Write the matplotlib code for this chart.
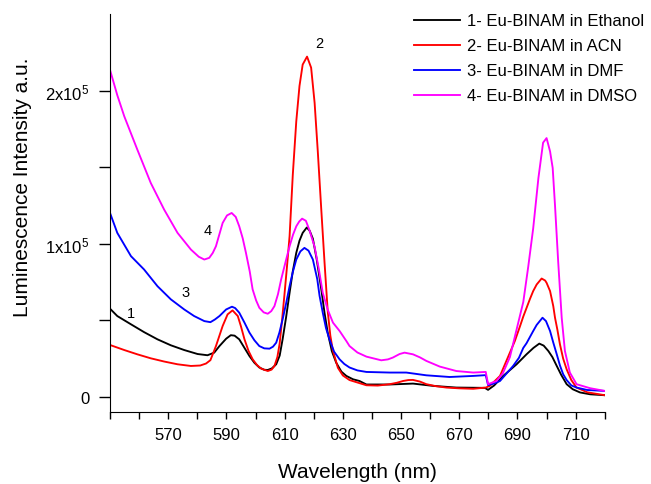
import matplotlib
matplotlib.use("Agg")
import matplotlib.pyplot as plt
from matplotlib.ticker import FixedLocator

plt.rcParams['font.family'] = ['Liberation Sans', 'DejaVu Sans']
plt.rcParams['mathtext.default'] = 'regular'

# ---- data ----
wl_eth = [550, 552.5, 557.2, 561.7, 566.3, 570.9, 575.5, 580.1, 583.5, 585.8, 587.6, 589.9, 591.5,
          592.8, 594.4, 596.2, 597.9, 599.6, 601.3, 603.0, 604.2, 605.6, 607.1, 608.3, 609.3,
          610.5, 611.7, 612.8, 614.0, 615.1, 616.2, 617.6, 618.6, 619.7, 621.0, 622.6, 623.7,
          624.8, 626.2, 627.7, 629.5, 631.2, 633.5, 635.7, 638.1, 646.1, 654.1, 661.0, 669.0,
          678.8, 679.9, 682.0, 685.1, 689.7, 693.1, 695.5, 697.5, 699.0, 700.6, 702.0, 703.5,
          705.0, 706.9, 709.0, 711.5, 715.0, 720]
int_eth = [57600, 52800, 47400, 42300, 37600, 33700, 30600, 28000, 27200, 28900, 33200, 38000, 40300,
           40000, 37600, 32000, 26700, 22300, 19200, 17700, 17600, 18600, 21300, 27000, 37600,
           52000, 68000, 82000, 94100, 102000, 107100, 110600, 108500, 103300, 90000, 70200, 55000,
           42000, 30000, 22400, 16500, 13700, 11500, 10400, 8100, 8100, 8700, 7200, 6100,
           5900, 4600, 7500, 13700, 21300, 27800, 32000, 34800, 33500, 30000, 26000, 20200,
           14500, 8300, 5000, 2900, 1700, 1100]

wl_acn = [550, 554.9, 559.4, 564.0, 568.6, 573.2, 577.8, 581.0, 583.0, 584.5, 586.4, 588.7, 590.4,
          592.1, 593.9, 595.0, 596.2, 597.6, 599.0, 600.5, 601.9, 604.2, 605.5, 606.5, 607.5,
          608.3, 609.1, 609.9, 610.8, 611.7, 612.8, 614.0, 615.1, 616.2, 617.7, 619.1, 620.3,
          621.4, 622.6, 623.7, 624.8, 625.7, 626.6, 628.3, 630.0, 632.3, 635.7, 638.1, 642.0,
          646.1, 648.5, 650.7, 652.5, 654.1, 656.5, 658.7, 662.0, 665.6, 670.0, 674.8, 679.1,
          680.5, 682.0, 684.0, 687.4, 689.1, 690.9, 692.0, 694.3, 695.4, 696.6, 698.3, 699.5,
          700.0, 701.2, 702.3, 702.9, 703.7, 704.6, 705.7, 706.9, 708.5, 710.3, 714.0, 720]
int_acn = [33900, 30600, 27800, 25200, 23100, 21300, 20200, 20500, 21800, 24000, 33200, 46300, 53900,
           56500, 52800, 46000, 37600, 30000, 24600, 20800, 18500, 16900, 17800, 20200, 26000,
           35000, 50000, 66000, 85000, 105000, 145000, 180000, 203000, 217000, 222200, 215000, 192000,
           160000, 122000, 88000, 56000, 40000, 30000, 19000, 14000, 11000, 9000, 7600, 7400,
           8300, 9200, 10400, 11000, 11100, 10000, 8300, 7000, 6100, 5600, 5300, 6100,
           7200, 10000, 13700, 28900, 36500, 46300, 52500, 64000, 69100, 73400, 77300, 76000,
           74500, 69100, 59300, 51700, 44000, 34300, 25000, 18000, 11000, 6100, 3000, 1100]

wl_dmf = [550, 552.5, 557.2, 561.7, 566.3, 570.9, 575.5, 578.9, 582.4, 584.5, 586.0, 587.6, 589.9,
          591.9, 593.0, 594.4, 596.2, 597.9, 599.6, 601.3, 603.0, 604.8, 606.0, 607.1, 608.2,
          609.3, 610.5, 611.7, 612.8, 614.0, 615.4, 616.8, 618.2, 619.7, 621.2, 622.0, 623.1,
          624.2, 625.4, 627.0, 628.9, 630.5, 632.3, 635.0, 638.1, 646.1, 651.8, 658.7, 666.7,
          674.8, 679.1, 679.9, 682.0, 684.0, 688.5, 690.5, 692.0, 693.1, 695.4, 696.6, 698.6,
          699.8, 701.2, 702.3, 703.5, 704.6, 705.7, 706.9, 708.5, 710.3, 714.0, 720]
int_dmf = [120100, 107100, 91900, 83200, 72300, 63700, 57100, 52800, 49500, 48800, 50500, 52800, 57100,
           58900, 58000, 55000, 48500, 42000, 37000, 33200, 31700, 31500, 32800, 35400, 42000,
           50600, 61000, 72300, 81500, 89700, 95000, 97300, 95500, 89700, 77000, 66000, 55000,
           45000, 37600, 29500, 24500, 21500, 19200, 17300, 16300, 15900, 15900, 14100, 13000,
           13700, 14200, 7700, 8800, 10400, 20200, 25500, 32000, 35000, 43000, 47000, 51700,
           49500, 43000, 35500, 27800, 20500, 14800, 11000, 7500, 6100, 4500, 3900]

wl_dmso = [550, 552.5, 554.9, 559.4, 564.0, 568.6, 573.2, 577.8, 580.5, 582.4, 584.1, 585.3, 586.4,
           588.7, 590.2, 591.8, 593.2, 594.4, 595.6, 596.7, 598.0, 599.0, 600.2, 601.3, 602.8,
           604.2, 605.4, 606.5, 607.7, 608.8, 610.3, 611.7, 612.9, 614.0, 615.0, 616.0, 617.3,
           618.5, 620.3, 621.7, 623.1, 624.8, 626.6, 628.9, 631.2, 632.3, 635.0, 638.1, 643.2,
           645.5, 647.2, 649.5, 651.2, 654.1, 656.5, 658.7, 663.3, 669.0, 674.8, 679.1, 679.9,
           682.8, 685.0, 687.4, 689.7, 692.0, 693.7, 695.4, 697.2, 698.8, 700.0, 701.2, 702.1,
           702.9, 704.0, 705.2, 706.3, 708.0, 710.3, 714.9, 720]
int_dmso = [213500, 197000, 183200, 161400, 139700, 122300, 107100, 96200, 91500, 89700, 90800, 94000, 98400,
            113600, 118500, 120100, 117500, 111400, 103500, 94100, 82000, 70200, 63000, 58200, 55200,
            54300, 56000, 59300, 67000, 76700, 88000, 98400, 106000, 111400, 114500, 116400, 115000,
            109000, 98000, 84000, 68000, 57000, 48500, 43000, 36500, 33200, 29000, 26300, 23900,
            24500, 25700, 28000, 28900, 27800, 25800, 23500, 19800, 16900, 15900, 16300, 8300,
            10400, 15500, 26000, 44000, 62000, 85000, 110000, 143000, 166000, 169000, 160300, 149500,
            125000, 88000, 51700, 30000, 15900, 8300, 5700, 3900]

series_labels = ["1- Eu-BINAM in Ethanol", "2- Eu-BINAM in ACN",
                 "3- Eu-BINAM in DMF", "4- Eu-BINAM in DMSO"]
series_colors = ["#000000", "#ff0000", "#0000ff", "#ff00ff"]

curve_marks = ["1", "2", "3", "4"]
mark_wl = [557.2, 622.0, 576.1, 583.7]
mark_int = [54500, 231300, 68400, 109300]

x_major = [570, 590, 610, 630, 650, 670, 690, 710]
x_minor = [550, 560, 580, 600, 620, 640, 660, 680, 700, 720]
y_major = [0, 100000, 200000]
y_minor = [50000, 150000]
y_ticklabels = ["0", "1x10$^5$", "2x10$^5$"]

# ---- figure ----
fig = plt.figure(figsize=(6.51, 4.85), dpi=100)
ax = fig.add_axes([0.169, 0.148, 0.760, 0.821])

data = [(wl_eth, int_eth), (wl_acn, int_acn), (wl_dmf, int_dmf), (wl_dmso, int_dmso)]
for (x, y), lab, col in zip(data, series_labels, series_colors):
    ax.plot(x, y, color=col, lw=1.35, label=lab)

for t, xw, yv in zip(curve_marks, mark_wl, mark_int):
    ax.text(xw, yv, t, fontsize=10.5, ha='center', va='center')

ax.set_xlim(550, 720)
ax.set_ylim(-10000, 250000)
ax.spines['top'].set_visible(False)
ax.spines['right'].set_visible(False)

ax.xaxis.set_major_locator(FixedLocator(x_major))
ax.xaxis.set_minor_locator(FixedLocator(x_minor))
ax.yaxis.set_major_locator(FixedLocator(y_major))
ax.yaxis.set_minor_locator(FixedLocator(y_minor))
ax.set_yticklabels(y_ticklabels)
ax.tick_params(axis='x', which='both', direction='out', length=5, width=1, labelsize=12, pad=6)
ax.tick_params(axis='y', which='both', direction='out', length=8, width=1, labelsize=12, pad=7)

ax.set_xlabel("Wavelength (nm)", fontsize=15, labelpad=14)
ax.set_ylabel("Luminescence Intensity a.u.", fontsize=15)
ax.yaxis.set_label_coords(-0.158, 0.568)

fig.legend(loc='upper right', bbox_to_anchor=(1.005, 0.991), frameon=False, fontsize=12,
           handlelength=2.75, handletextpad=0.42, labelspacing=0.6, borderaxespad=0.2)

fig.savefig("out.png", dpi=100)
